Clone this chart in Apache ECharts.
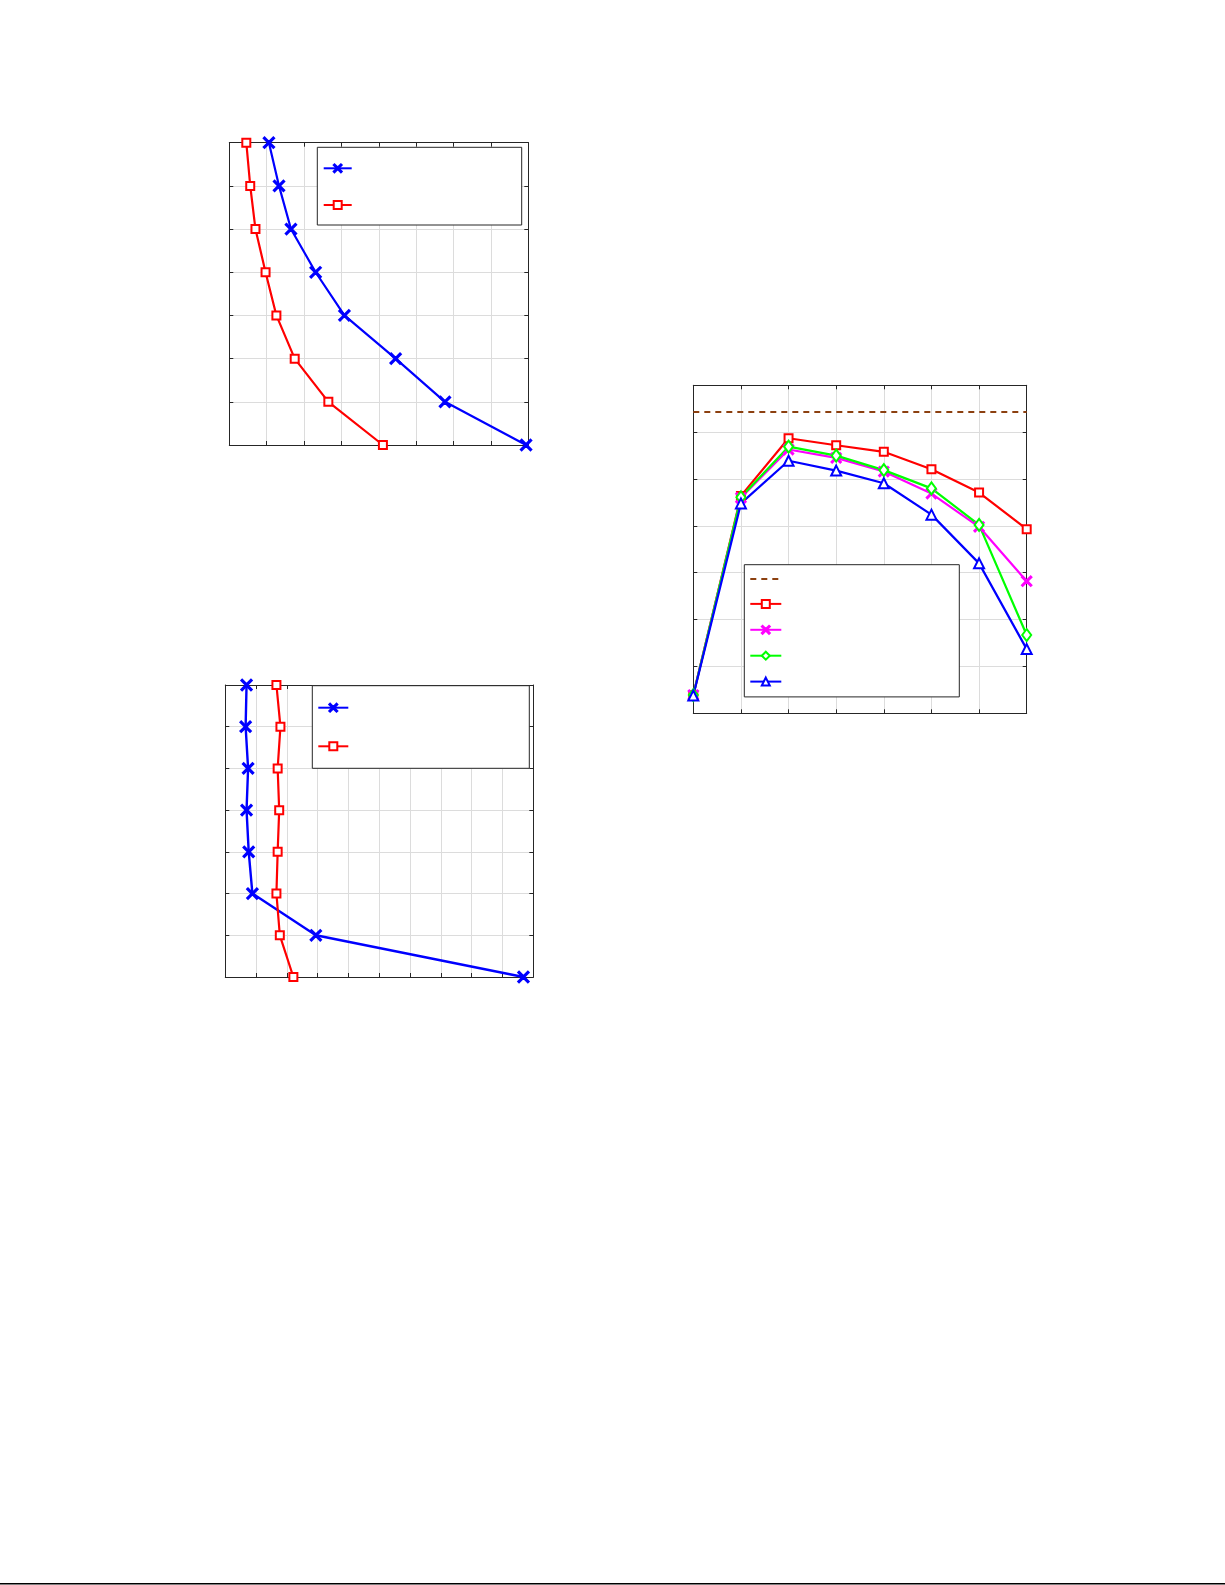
<!DOCTYPE html>
<html>
<head>
<meta charset="utf-8">
<script src="https://cdn.jsdelivr.net/npm/echarts@6/dist/echarts.min.js"></script>
<style>
html,body{margin:0;padding:0;background:#fff;overflow:hidden;}
#main{width:1225px;height:1585px;}
</style>
</head>
<body>
<div id="main"></div>
<script>
// ---- data ----
const c1Levels = [7, 6, 5, 4, 3, 2, 1, 0];
const c1Blue = [1.06, 1.33, 1.65, 2.31, 3.08, 4.45, 5.77, 7.94];
const c1Red = [0.455, 0.56, 0.70, 0.97, 1.26, 1.75, 2.65, 4.11];

const c2Levels = [7, 6, 5, 4, 3, 2, 1, 0];
const c2Blue = [0.69, 0.66, 0.74, 0.69, 0.76, 0.88, 2.94, 9.68];
const c2Red = [1.66, 1.79, 1.70, 1.75, 1.70, 1.66, 1.77, 2.21];

const c3X = [0, 1, 2, 3, 4, 5, 6, 7];
const c3Ref = 6.43;
const c3Red = [0.39, 4.64, 5.87, 5.72, 5.58, 5.21, 4.71, 3.93];
const c3Magenta = [0.39, 4.60, 5.63, 5.45, 5.16, 4.69, 3.98, 2.82];
const c3Green = [0.39, 4.61, 5.69, 5.50, 5.19, 4.80, 4.02, 1.67];
const c3Blue = [0.38, 4.48, 5.39, 5.18, 4.91, 4.24, 3.20, 1.37];

// ---- styles ----
const BLUE = '#0000ff', RED = '#ff0000', MAG = '#ff00ff', GRN = '#00ff00', BROWN = '#8c4010';
const AXC = '#262626', GRIDC = '#dcdcdc';
const CLEAR = 'rgba(0,0,0,0)';
const XSYM = 'path://M0,1L1,0L5,4L9,0L10,1L6,5L10,9L9,10L5,6L1,10L0,9L4,5Z';

const chart = echarts.init(document.getElementById('main'), null, {renderer: 'canvas'});

const grids = [
  {left: 229.3, top: 142.7, width: 299, height: 302.3},
  {left: 225.3, top: 685, width: 308, height: 292},
  {left: 693.3, top: 385.3, width: 333.4, height: 328}
];
const xMax = [8, 10, 7];
const yMax = [7, 7, 7];

const xAxes = [], yAxes = [];
grids.forEach((g, i) => {
  const common = {
    type: 'value', gridIndex: i, min: 0, interval: 1,
    axisLine: {show: true, onZero: false, lineStyle: {color: AXC, width: 1}},
    axisTick: {show: true, inside: true, length: 4, lineStyle: {color: AXC, width: 1}},
    axisLabel: {show: false}
  };
  xAxes.push(Object.assign({}, common, {max: xMax[i], position: 'bottom', splitLine: {show: true, lineStyle: {color: GRIDC, width: 1}}}));
  xAxes.push(Object.assign({}, common, {max: xMax[i], position: 'top', splitLine: {show: false}}));
  yAxes.push(Object.assign({}, common, {max: yMax[i], position: 'left', splitLine: {show: true, lineStyle: {color: GRIDC, width: 1}}}));
  yAxes.push(Object.assign({}, common, {max: yMax[i], position: 'right', splitLine: {show: false}}));
});

function lineSeries(name, gi, data, color, symbol, size, width) {
  return {
    name: name, type: 'line', xAxisIndex: gi * 2, yAxisIndex: gi * 2,
    data: data, color: color, symbol: symbol, symbolSize: size,
    showSymbol: true, showAllSymbol: true, clip: false, animation: false, z: 3,
    lineStyle: {color: color, width: width},
    itemStyle: {color: color, borderColor: color, borderWidth: 1.6},
    emphasis: {disabled: true}
  };
}

const refSeries = lineSeries('c3ref', 2, [[c3X[0], c3Ref], [c3X[c3X.length - 1], c3Ref]], BROWN, 'none', 0, 2.2);
refSeries.lineStyle = {color: BROWN, width: 2.2, type: [6, 5]};
refSeries.itemStyle = {color: CLEAR, borderColor: CLEAR, borderWidth: 0};

const series = [
  lineSeries('c1a', 0, c1Blue.map((v, k) => [v, c1Levels[k]]), BLUE, XSYM, 11, 2.2),
  lineSeries('c1b', 0, c1Red.map((v, k) => [v, c1Levels[k]]), RED, 'emptyRect', 8, 2.2),
  lineSeries('c2a', 1, c2Blue.map((v, k) => [v, c2Levels[k]]), BLUE, XSYM, 11, 2.4),
  lineSeries('c2b', 1, c2Red.map((v, k) => [v, c2Levels[k]]), RED, 'emptyRect', 8, 2.2),
  refSeries,
  lineSeries('c3r', 2, c3Red.map((v, k) => [c3X[k], v]), RED, 'emptyRect', 8, 2.2),
  lineSeries('c3m', 2, c3Magenta.map((v, k) => [c3X[k], v]), MAG, XSYM, 10, 2.2),
  lineSeries('c3g', 2, c3Green.map((v, k) => [c3X[k], v]), GRN, 'emptyDiamond', [9, 12], 2.2),
  lineSeries('c3b', 2, c3Blue.map((v, k) => [c3X[k], v]), BLUE, 'emptyTriangle', 10, 2.2)
];

function legend(names, left, top, itemWidth, itemHeight, gap, pad) {
  return {
    data: names, orient: 'vertical', left: left, top: top,
    itemWidth: itemWidth, itemHeight: itemHeight, itemGap: gap,
    padding: pad, backgroundColor: '#fff', borderColor: AXC, borderWidth: 1,
    formatter: function () { return ''; }, selectedMode: false, z: 5,
    textStyle: {fontSize: 12}
  };
}

chart.setOption({
  animation: false,
  grid: grids,
  xAxis: xAxes,
  yAxis: yAxes,
  legend: [
    legend(['c1a', 'c1b'], 317.3, 147.3, 28, 10, 26.7, [16, 169, 15, 5.4]),
    legend(['c2a', 'c2b'], 312.3, 685.7, 30, 10, 28.6, [17, 180, 17, 5]),
    legend(['c3ref', 'c3r', 'c3m', 'c3g', 'c3b'], 744.3, 564.7, 31, 10, 15.9, [9.3, 177, 10.3, 5])
  ],
  series: series,
  graphic: [{type: 'rect', left: 0, top: 1583, shape: {width: 1225, height: 1.6}, style: {fill: '#000'}, silent: true}]
});
</script>
</body>
</html>
